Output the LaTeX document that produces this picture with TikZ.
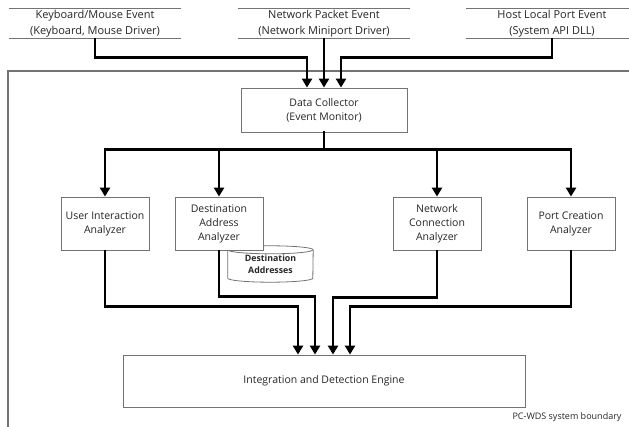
\documentclass[tikz,border=0pt]{standalone}
\usepackage{fontspec}
\setmainfont{Open Sans}
\usetikzlibrary{arrows.meta}

\begin{document}
\begin{tikzpicture}[x=1pt,y=-1pt,font=\fontsize{10.5}{14}\selectfont,
  flow/.style={line width=2.6pt,-{Triangle[width=10pt,length=9pt]}},
  bus/.style={line width=2.6pt,line cap=rect},
  edge/.style={draw=black!55,line width=0.8pt},
  box/.style={edge,fill=white,align=center,text=black!85},
  src/.style={minimum width=172pt,minimum height=29pt,align=center,inner sep=0pt,text=black!85,
    font=\fontsize{11}{14}\selectfont},
  ana/.style={box,minimum width=88pt,minimum height=53pt,inner sep=1pt}]
\useasboundingbox (0,0) rectangle (629,426);

% system boundary
\draw[black!55,line width=1.4pt] (8,440) -- (8,71) -- (640,71);
\node[anchor=east,text=black!85,font=\fontsize{9}{10}\selectfont] (bnd) at (625,417) {PC-WDS system boundary};

% event sources
\node[src] (kb) at (95,23.5) {Keyboard/Mouse Event\\[2pt](Keyboard, Mouse Driver)};
\node[src] (np) at (324,23.5) {Network Packet Event\\[2pt](Network Miniport Driver)};
\node[src] (hl) at (552,23.5) {Host Local Port Event\\[2pt](System API DLL)};
\foreach \s in {kb,np,hl}
  \draw[edge] (\s.north west) -- (\s.north east) (\s.south west) -- (\s.south east);

\node[box,minimum width=166pt,minimum height=44pt] (dc) at (324,110) {Data Collector\\(Event Monitor)};

\draw[flow] (kb.south) -- ++(0,19) -| ([xshift=-17pt]dc.north);
\draw[flow] (np.south) -- (dc.north);
\draw[flow] (hl.south) -- ++(0,19) -| ([xshift=17pt]dc.north);

% database behind the analyzer box
\node[minimum width=85pt,minimum height=36pt,inner sep=0pt,align=center,text=black!85,
  font=\bfseries\fontsize{8.8}{12}\selectfont] (db) at (270.5,264) {Destination\\Addresses};
\draw[edge] ([yshift=-4pt]db.north west) -- ([yshift=4pt]db.south west)
  arc[start angle=180,end angle=360,x radius=42.5pt,y radius=4pt]
  -- ([yshift=-4pt]db.north east)
  arc[start angle=0,end angle=180,x radius=42.5pt,y radius=4pt];
\draw[edge] ([yshift=-4pt]db.north west)
  arc[start angle=180,end angle=360,x radius=42.5pt,y radius=4pt];

% analyzers
\node[ana] (ui) at (105,223.5) {User Interaction\\Analyzer};
\node[ana] (da) at (219,223.5) {Destination\\Address\\Analyzer};
\node[ana] (nc) at (437,223.5) {Network\\Connection\\Analyzer};
\node[ana] (pc) at (571,223.5) {Port Creation\\Analyzer};

\draw[bus] (dc.south) -- ++(0,17) coordinate (hub);
\draw[bus] (ui.north |- hub) -- (pc.north |- hub);
\foreach \a in {ui,da,nc,pc}
  \draw[flow] (\a.north |- hub) -- (\a.north);

\node[box,minimum width=402pt,minimum height=52pt] (ie) at (324,381) {Integration and Detection Engine};

\draw[flow] (ui.south) -- ++(0,56) -| ([xshift=-26pt]ie.north);
\draw[flow] (da.south) -- ++(0,46) -| ([xshift=-9pt]ie.north);
\draw[flow] (nc.south) -- ++(0,47) -| ([xshift=9pt]ie.north);
\draw[flow] (pc.south) -- ++(0,56) -| ([xshift=26pt]ie.north);

\end{tikzpicture}
\end{document}
